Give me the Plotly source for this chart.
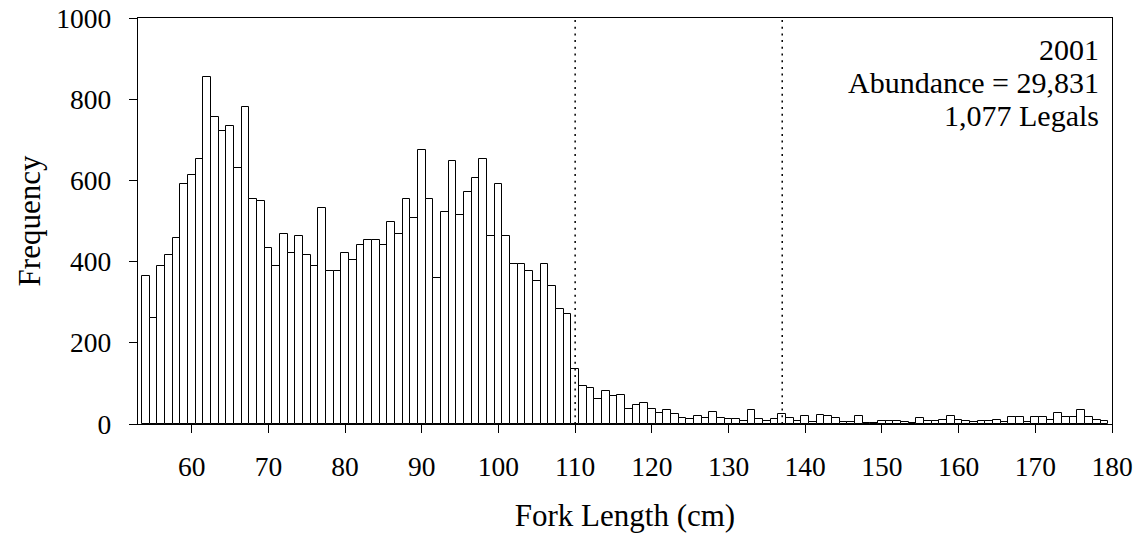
import plotly.graph_objects as go

lengths = list(range(54, 180))
frequency = [
    364, 260, 388, 416, 457, 590, 613, 653, 855, 757,   # 54-63
    722, 734, 630, 780, 555, 549, 433, 388, 467, 422,   # 64-73
    462, 416, 388, 531, 376, 376, 421, 404, 440, 452,   # 74-83
    452, 440, 497, 467, 554, 508, 676, 554, 359, 521,   # 84-93
    647, 514, 572, 607, 653, 462, 590, 462, 393, 393,   # 94-103
    376, 353, 393, 341, 283, 271, 135, 93, 88, 61,      # 104-113
    81, 69, 72, 37, 48, 52, 37, 27, 34, 25,             # 114-123
    16, 12, 19, 16, 30, 16, 12, 12, 7, 34,              # 124-133
    12, 7, 12, 25, 16, 8, 19, 4, 22, 19,                # 134-143
    14, 5, 6, 19, 2, 2, 8, 8, 8, 5,                     # 144-153
    2, 15, 8, 8, 11, 19, 11, 8, 5, 8,                   # 154-163
    8, 11, 5, 17, 17, 5, 17, 17, 10, 26,                # 164-173
    17, 17, 34, 17, 10, 8,                              # 174-179
]
legal_limits = [110, 137]
x_ticks = list(range(60, 181, 10))
y_ticks = list(range(0, 1001, 200))
annotation_lines = ["2001", "Abundance = 29,831", "1,077 Legals"]

FONT = "Liberation Serif, Times New Roman, serif"

fig = go.Figure()
fig.add_trace(go.Bar(
    x=lengths, y=frequency, width=1,
    marker=dict(color="white", line=dict(color="black", width=1)),
    showlegend=False, hoverinfo="x+y",
))

for xv in legal_limits:
    fig.add_shape(type="line", x0=xv, x1=xv, y0=0, y1=1000, xref="x", yref="y",
                  line=dict(color="black", width=1.5, dash="2px,4.7px"), layer="above")

line_y = [0.9233, 0.8411, 0.7587]
for txt, yy in zip(annotation_lines, line_y):
    fig.add_annotation(
        x=0.988, y=yy, xref="paper", yref="paper", xanchor="right", yanchor="middle",
        text=txt, showarrow=False, align="right", borderpad=0,
        font=dict(family=FONT, size=30, color="black"),
    )

fig.update_layout(
    width=1135, height=533,
    margin=dict(l=138, r=23, t=18, b=109),
    paper_bgcolor="white", plot_bgcolor="white",
    bargap=0,
    font=dict(family=FONT, size=27.5, color="black"),
    xaxis=dict(
        range=[53, 180], tickmode="array", tickvals=x_ticks,
        ticks="outside", ticklen=8, tickwidth=1.3, tickcolor="black",
        showline=True, linecolor="black", linewidth=1.3, mirror=True,
        showgrid=False, zeroline=False, automargin=False,
        tickfont=dict(family=FONT, size=27.5), ticklabelstandoff=10,
        title=dict(text="Fork Length (cm)", font=dict(family=FONT, size=31), standoff=26),
    ),
    yaxis=dict(
        range=[0, 1000], tickmode="array", tickvals=y_ticks,
        ticks="outside", ticklen=8, tickwidth=1.3, tickcolor="black",
        showline=True, linecolor="black", linewidth=1.3, mirror=True,
        showgrid=False, zeroline=False, automargin=False,
        tickfont=dict(family=FONT, size=27.5), ticklabelstandoff=12,
        title=dict(text="Frequency", font=dict(family=FONT, size=31), standoff=6),
    ),
)

fig.write_html("out.html")
